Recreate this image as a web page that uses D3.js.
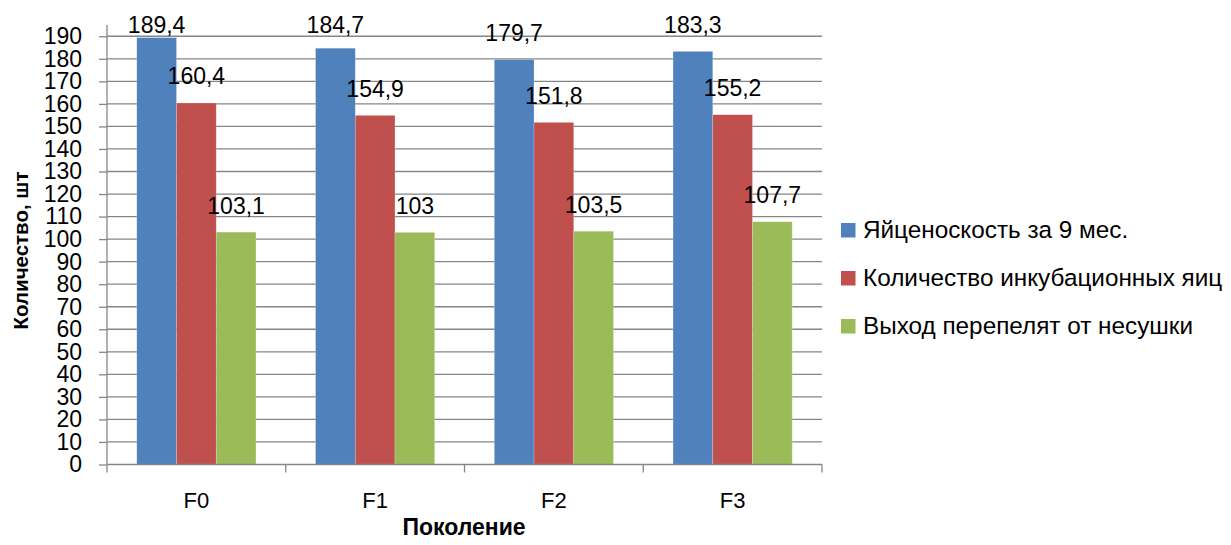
<!DOCTYPE html>
<html><head><meta charset="utf-8">
<script src="https://cdn.jsdelivr.net/npm/d3@7"></script>
<style>body{margin:0;background:#fff}svg{display:block}text{font-family:"Liberation Sans",Arial,sans-serif;fill:#000}</style>
</head><body><svg id="c" width="1231" height="545"></svg>
<script>
const categories = ["F0","F1","F2","F3"];
const seriesNames = ["Яйценоскость за 9 мес.","Количество инкубационных яиц","Выход перепелят от несушки"];
const eggs9m = [189.4,184.7,179.7,183.3];
const incubEggs = [160.4,154.9,151.8,155.2];
const chicks = [103.1,103,103.5,107.7];
const yTicks = d3.range(0,191,10);
const colors = ["#4F81BD","#C0504D","#9BBB59"];
const series = [eggs9m, incubEggs, chicks];
const fmt = v => String(v).replace(".", ",");

const svg = d3.select("#c");
const L=107, R=822, T=25, B=464.5;
const x = d3.scaleBand().domain(categories).range([L,R]).paddingInner(0).paddingOuter(0);
// gap width 150% of a bar -> outer padding of 0.75 bar on each side
const inner = d3.scaleBand().domain(d3.range(3)).range([0,x.bandwidth()]).paddingInner(0).paddingOuter(0.75);
const y = d3.scaleLinear().domain([0,195]).range([B,T]);
const grid="#868686";

// gridlines
svg.append("g").selectAll("line").data(yTicks.filter(d=>d>0)).join("line")
  .attr("x1",L).attr("x2",R).attr("y1",d=>y(d)).attr("y2",d=>y(d))
  .attr("stroke",grid).attr("stroke-width",1.3);

// y axis
const ya = svg.append("g").attr("transform",`translate(${L},0)`)
  .call(d3.axisLeft(y).tickValues(yTicks).tickSize(8).tickPadding(17).tickFormat(d=>d));
ya.select(".domain").attr("stroke",grid).attr("stroke-width",1.3).attr("d",`M-0,${B}V${T}`);
ya.selectAll(".tick line").attr("stroke",grid).attr("stroke-width",1.3);
ya.selectAll(".tick text").style("font-size","23px").style("font-family","'Liberation Sans',Arial,sans-serif").attr("fill","#000");

// bars
categories.forEach((c,i)=>{
  series.forEach((s,j)=>{
    svg.append("rect").attr("x",x(c)+inner(j)).attr("y",y(s[i]))
      .attr("width",inner.bandwidth()).attr("height",B-y(s[i]))
      .attr("fill",colors[j]).attr("stroke","#fff").attr("stroke-opacity",0.35).attr("stroke-width",0.6);
  });
});
// labels
categories.forEach((c,i)=>{
  series.forEach((s,j)=>{
    svg.append("text").attr("x",x(c)+inner(j)+inner.bandwidth()/2)
      .attr("y",Math.max(y(s[i])-18.5,33)).attr("text-anchor","middle")
      .style("font-size","23px").text(fmt(s[i]));
  });
});

// x axis
const xa = svg.append("g").attr("transform",`translate(0,${B})`);
xa.append("line").attr("x1",L).attr("x2",R).attr("stroke",grid).attr("stroke-width",1.5);
const bounds = [L].concat(categories.map(c=>x(c)+x.bandwidth()));
xa.selectAll(".tk").data(bounds).join("line").attr("class","tk")
  .attr("x1",d=>d).attr("x2",d=>d).attr("y1",0).attr("y2",8).attr("stroke",grid).attr("stroke-width",1.3);
xa.selectAll(".cl").data(categories).join("text").attr("class","cl")
  .attr("x",d=>x(d)+x.bandwidth()/2).attr("y",43.5).attr("text-anchor","middle")
  .style("font-size","22px").text(d=>d);

// axis titles
svg.append("text").attr("x",464).attr("y",535).attr("text-anchor","middle")
  .style("font-size","23px").style("font-weight","bold").text("Поколение");
svg.append("text").attr("transform","translate(28,250.5) rotate(-90)").attr("text-anchor","middle")
  .style("font-size","20.5px").style("font-weight","bold").text("Количество, шт");

// legend
const lg = svg.append("g");
const rowsY = [238,286,334];
seriesNames.forEach((n,j)=>{
  lg.append("rect").attr("x",841).attr("y",rowsY[j]-15).attr("width",14.5).attr("height",14.5).attr("fill",colors[j]);
  lg.append("text").attr("x",863).attr("y",rowsY[j]).style("font-size","24.3px").text(n);
});
</script></body></html>
